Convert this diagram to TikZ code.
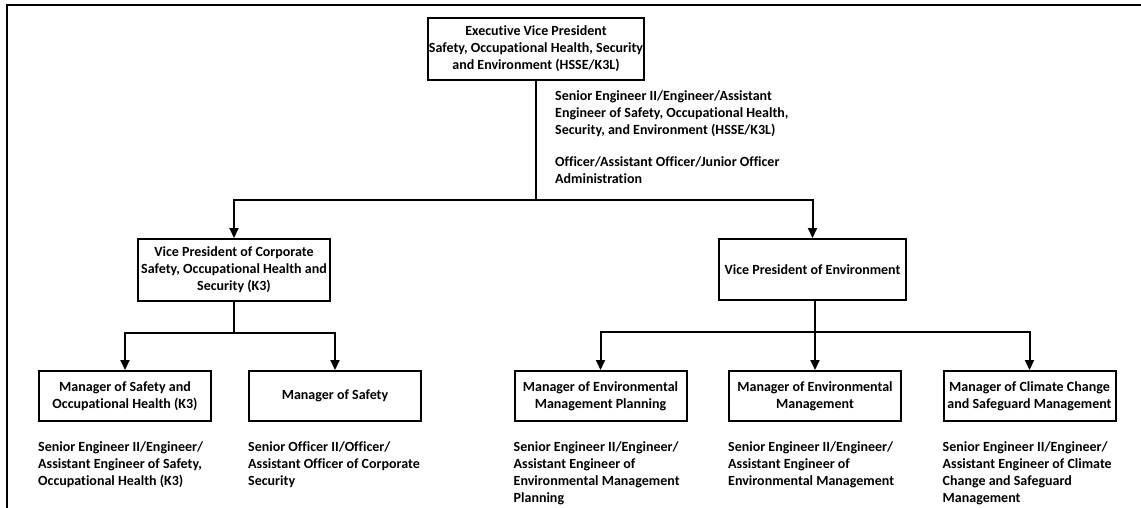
\documentclass[tikz,border=0pt]{standalone}
\usepackage{fontspec}
\setmainfont[Ligatures=NoCommon]{Carlito}
\usetikzlibrary{arrows.meta,calc}
\begin{document}
\begin{tikzpicture}[x=1pt,y=-1pt,
  every node/.style={font=\fontsize{14}{17}\selectfont\bfseries},
  box/.style={draw, line width=2pt, align=center, inner sep=0pt},
  mgr/.style={box, minimum width=172pt, minimum height=50pt},
  lbl/.style={align=left, anchor=north west, inner sep=0pt},
  conn/.style={line width=2pt},
  arr/.style={line width=2pt, -{Triangle[width=9pt,length=10pt]}}]
\useasboundingbox (0,0) rectangle (1141,508);
\draw[line width=2pt] (7,508) -- (7,5) -- (1141,5);

\node[box, minimum width=216pt, minimum height=62pt] (evp) at (536,49)
  {Executive Vice President\\Safety, Occupational Health, Security\\and Environment (HSSE/K3L)};
\node[lbl] (s1) at (555,90)
  {Senior Engineer II/Engineer/Assistant\\Engineer of Safety, Occupational Health,\\Security, and Environment (HSSE/K3L)};
\node[lbl] (s2) at (555,156)
  {Officer/Assistant Officer/Junior Officer\\Administration};

\node[box, minimum width=192pt, minimum height=62pt] (vp1) at (234,270)
  {Vice President of Corporate\\Safety, Occupational Health and\\Security (K3)};
\node[box, minimum width=187pt, minimum height=61pt] (vp2) at (812.5,269.5)
  {Vice President of Environment};

\node[mgr] (m1) at (125,396) {Manager of Safety and\\Occupational Health (K3)};
\node[mgr] (m2) at (335,396) {Manager of Safety};
\node[mgr] (m3) at (600.5,396) {Manager of Environmental\\Management Planning};
\node[mgr] (m4) at (815,396) {Manager of Environmental\\Management};
\node[mgr] (m5) at (1029.5,396) {Manager of Climate Change\\and Safeguard Management};

\node[lbl] (t1) at (m1.south west |- 0,441) {Senior Engineer II/Engineer/\\Assistant Engineer of Safety,\\Occupational Health (K3)};
\node[lbl] (t2) at (m2.south west |- 0,441) {Senior Officer II/Officer/\\Assistant Officer of Corporate\\Security};
\node[lbl] (t3) at (m3.south west |- 0,441) {Senior Engineer II/Engineer/\\Assistant Engineer of\\Environmental Management\\Planning};
\node[lbl] (t4) at (m4.south west |- 0,441) {Senior Engineer II/Engineer/\\Assistant Engineer of\\Environmental Management};
\node[lbl] (t5) at (m5.south west |- 0,441) {Senior Engineer II/Engineer/\\Assistant Engineer of Climate\\Change and Safeguard\\Management};

\coordinate (b0) at (evp.south |- 0,200);
\draw[conn] (evp.south) -- (b0);
\draw[arr] (b0) -| (vp1.north);
\draw[arr] (b0) -| (vp2.north);

\coordinate (b1) at (vp1.south |- 0,333);
\draw[conn] (vp1.south) -- (b1);
\draw[arr] (b1) -| (m1.north);
\draw[arr] (b1) -| (m2.north);

\coordinate (v2) at (m4.north |- vp2.south);
\coordinate (b2) at (m4.north |- 0,332);
\draw[conn] (v2) -- (b2);
\draw[arr] (b2) -- (m4.north);
\draw[arr] (b2) -| (m3.north);
\draw[arr] (b2) -| (m5.north);
\end{tikzpicture}
\end{document}
